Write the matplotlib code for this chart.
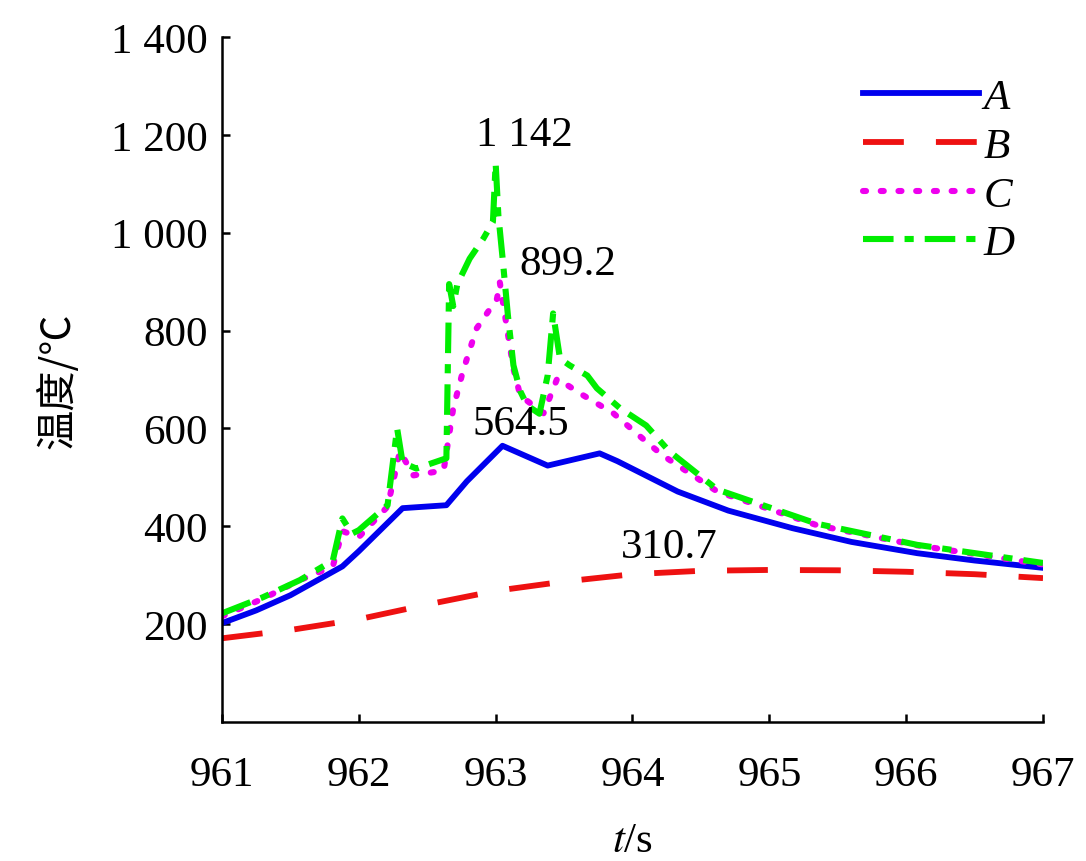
import matplotlib
matplotlib.use('Agg')
import matplotlib.pyplot as plt

plt.rcParams['font.family'] = ['Liberation Serif', 'Noto Sans CJK SC']
plt.rcParams['mathtext.fontset'] = 'stix'

# temperature curves at the four measuring points
tA = [961, 961.25, 961.5, 961.88, 962.0, 962.32, 962.64, 962.79, 963.05, 963.38,
      963.76, 963.89, 964.33, 964.7, 965.17, 965.6, 966.08, 966.5, 967]
A = [202, 228, 259, 318, 349, 437, 443, 492, 564.5, 524,
     549, 533, 471, 432, 396, 368, 345, 330, 315]

tB = [961, 961.5, 962, 962.5, 963, 963.5, 964, 964.5, 965, 965.5, 966, 966.5, 967]
B = [171, 188, 210, 240, 268, 287, 302, 309, 310.7, 310, 307, 302, 294]

tC = [961, 961.3, 961.57, 961.81, 961.88, 962.0, 962.21, 962.3, 962.4, 962.62,
      962.69, 962.76, 962.86, 963.01, 963.03, 963.08, 963.13, 963.18, 963.35,
      963.45, 963.62, 963.86, 964.1, 964.22, 964.62, 965.35, 966.08, 967]
C = [216, 252, 290, 318, 390, 378, 440, 553, 504, 514,
     641, 716, 804, 865, 899.2, 810, 722, 667, 631,
     702, 671, 631, 573, 545, 471, 402, 361, 322]

tD = [961, 961.3, 961.57, 961.81, 961.88, 961.95, 962.0, 962.21, 962.28, 962.32,
      962.42, 962.64, 962.66, 962.69, 962.72, 962.81, 962.91, 962.98, 963.0,
      963.02, 963.05, 963.09, 963.13, 963.18, 963.23, 963.32, 963.38, 963.42,
      963.47, 963.54, 963.67, 963.74, 963.91, 964.1, 964.27, 964.62, 965.35,
      966.08, 967]
D = [222, 255, 290, 330, 416, 385, 392, 443, 600, 530,
     518, 539, 895, 850, 895, 947, 988, 1022, 1142,
     1035, 950, 830, 729, 676, 647, 630, 708, 835,
     743, 729, 708, 682, 641, 606, 553, 475, 405,
     362, 325]

xticks = [961, 962, 963, 964, 965, 966, 967]
yticks = [200, 400, 600, 800, 1000, 1200, 1400]
ytick_labels = ['200', '400', '600', '800', '1 000', '1 200', '1 400']

fs = 31

fig = plt.figure(figsize=(10.86, 8.62), dpi=100)
ax = fig.add_axes([0.2044, 0.1613, 0.756, 0.7946])

ax.plot(tA, A, '-', color='#0000ee', linewidth=4.2, label='A')
ax.plot(tB, B, color='#ee1111', linewidth=4.2, dashes=(7, 5.5), label='B')
ax.plot(tC, C, color='#ee00ee', linewidth=4.4, linestyle=(0, (0.5, 2.4)),
        dash_capstyle='round', label='C')
ax.plot(tD, D, color='#00ee00', linewidth=4.4, dashes=(5, 1.8, 1.5, 1.8), label='D')

# peak values
ax.text(963.21, 1200, '1 142', fontsize=fs, ha='center', va='center')
ax.text(963.53, 937, '899.2', fontsize=fs, ha='center', va='center')
ax.text(963.18, 610, '564.5', fontsize=fs, ha='center', va='center')
ax.text(964.27, 359, '310.7', fontsize=fs, ha='center', va='center')

ax.set_xlim(961, 967)
ax.set_ylim(0, 1400)
ax.set_xticks(xticks)
ax.set_xticklabels([str(t) for t in xticks])
ax.set_yticks(yticks)
ax.set_yticklabels(ytick_labels)
ax.tick_params(direction='in', length=6, width=1.8, labelsize=fs)
ax.tick_params(axis='x', pad=24)
ax.tick_params(axis='y', pad=10)
for s in ['top', 'right']:
    ax.spines[s].set_visible(False)
for s in ['left', 'bottom']:
    ax.spines[s].set_linewidth(1.8)

ax.set_xlabel('$t$/s', fontsize=fs, labelpad=20)
ax.set_ylabel('温度/℃', fontsize=29, family=['Noto Sans CJK SC'], labelpad=24)

ax.legend(loc='upper left', bbox_to_anchor=(0.76, 0.965), frameon=False,
          prop={'style': 'italic', 'size': fs},
          handlelength=2.7, handletextpad=0.1, labelspacing=0.22,
          borderaxespad=0)

fig.savefig('out.png', dpi=100)
